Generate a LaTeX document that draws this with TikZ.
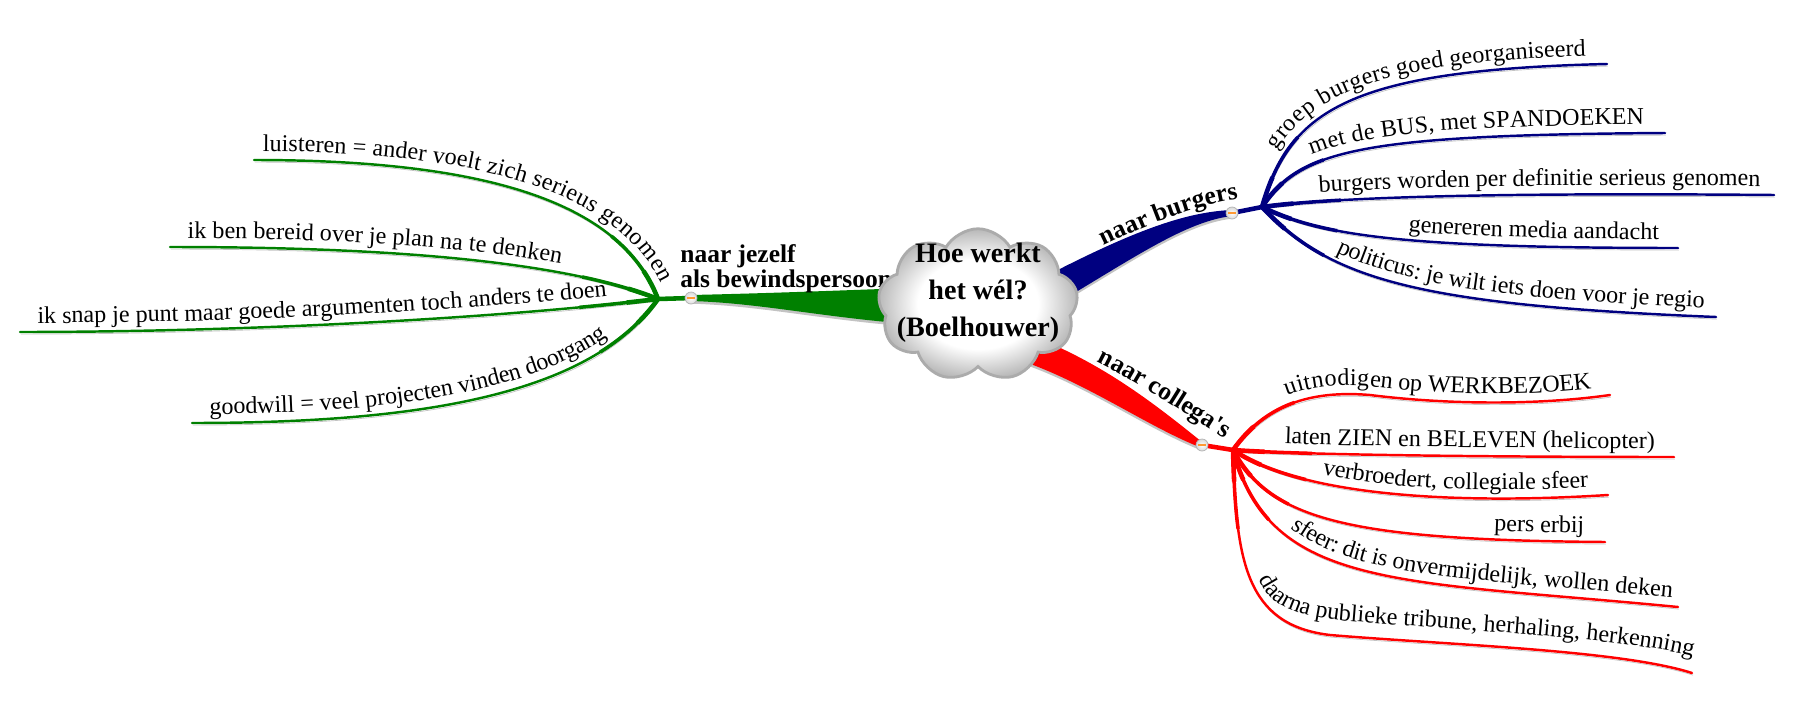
\documentclass[tikz,border=0pt]{standalone}
\usepackage{fontspec}
\setmainfont{Liberation Serif}
\usetikzlibrary{shapes.symbols,decorations.text}
\definecolor{mmgreen}{RGB}{0,128,0}
\definecolor{mmblue}{RGB}{0,0,128}
\definecolor{mmred}{RGB}{255,0,0}
\definecolor{mmshadow}{RGB}{195,195,195}
\pgfdeclareradialshading{cloudshade}{\pgfpoint{0bp}{0bp}}{color(0bp)=(white); color(15bp)=(white); color(25bp)=(black!28); color(50bp)=(black!28)}
\newcommand{\leaffont}{\fontsize{13.7}{16}\selectfont}
\newcommand{\branchfont}{\fontsize{14.5}{14.2}\selectfont\bfseries}

\begin{document}
\begin{tikzpicture}[x=0.02cm, y=-0.02cm,
  leaf/.style={line width=1.4pt, line cap=round, draw=#1,
    preaction={draw=mmshadow, transform canvas={xshift=0.5pt, yshift=-1.2pt}},
    preaction={draw=#1, line width=2pt, dash pattern=on 45pt off 3000pt},
    preaction={draw=#1, line width=2.6pt, dash pattern=on 18pt off 3000pt}},
  leftleaf/.style n args={3}{leaf=#1, postaction={decorate, decoration={text along path,
    reverse path, raise=5pt, text color=black, text align={align=left, left indent=#2},
    text={|\leaffont|#3}}}},
  rightleaf/.style n args={3}{leaf=#1, postaction={decorate, decoration={text along path,
    raise=5pt, text color=black, text align={align=right, right indent=#2},
    text={|\leaffont|#3}}}},
  leaftext/.style 2 args={decorate, decoration={text along path, text color=black,
    text align={align=right, right indent=#1}, text={|\leaffont|#2}}},
  band/.style={preaction={fill=mmshadow, transform canvas={yshift=-1.5pt}}},
  stem/.style={line width=2.6pt},
  bandtext/.style={decorate, decoration={text along path, raise=#1,
    text color=black, text align={align=center}}},
  centercloud/.style={cloud, cloud puffs=9, cloud puff arc=120, cloud ignores aspect,
    minimum width=4cm, minimum height=3.05cm, draw=black!33, line width=1.6pt,
    shading=cloudshade},
  titletext/.style={font=\fontsize{16}{21}\selectfont\bfseries, align=center, inner sep=0pt},
  branchlabel/.style={font=\branchfont, align=left, inner sep=0pt},
  knob/.style={circle, minimum size=0.24cm, inner sep=0pt, draw=black!30, line width=0.4pt,
    inner color=white, outer color=black!15,
    path picture={\draw[orange!80, line width=0.8pt]
      ([xshift=1.2pt]path picture bounding box.west) -- ([xshift=-1.2pt]path picture bounding box.east);}}]

\path[use as bounding box, fill=white] (0,0) rectangle (1795,700);

% forks, knobs and leaf ends
\coordinate (gfork) at (658,299);
\coordinate (gk) at (691,298);
\coordinate (g1) at (254,160);
\coordinate (g2) at (170,247);
\coordinate (g3) at (20,332);
\coordinate (g4) at (192,423);

\coordinate (bfork) at (1262,207);
\coordinate (bk) at (1232,213);
\coordinate (b1) at (1607,64);
\coordinate (b2) at (1665,133);
\coordinate (b3) at (1774,195);
\coordinate (b4) at (1678,248);
\coordinate (b5) at (1716,317);

\coordinate (rfork) at (1233,450);
\coordinate (rk) at (1202,445);
\coordinate (r1) at (1610,395);
\coordinate (r2) at (1674,457);
\coordinate (r3) at (1608,495);
\coordinate (r4) at (1605,542);
\coordinate (r5) at (1678,607);
\coordinate (r6) at (1692,673);

% main branches
\fill[band, mmgreen] (691,295) .. controls (780,293) and (850,290) .. (910,288)
  -- (910,324) .. controls (820,317) and (760,303) .. (691,301) -- cycle;
\fill[band, mmblue] (1232,210) .. controls (1180,212) and (1120,236) .. (1010,295)
  -- (1020,325) .. controls (1120,268) and (1180,222) .. (1232,216) -- cycle;
\fill[band, mmred] (1202,442) .. controls (1150,400) and (1100,362) .. (1030,335)
  -- (1025,362) .. controls (1090,385) and (1150,428) .. (1202,448) -- cycle;

\draw[stem, mmgreen] (gfork) -- (gk);
\draw[stem, mmblue] (bk) -- (bfork);
\draw[stem, mmred] (rk) -- (rfork);

% naar jezelf
\draw[leftleaf={mmgreen}{5pt}{luisteren = ander voelt zich serieus genomen}]
  (gfork) .. controls (620,200) and (480,160) .. (g1);
\draw[leftleaf={mmgreen}{10pt}{ik ben bereid over je plan na te denken}]
  (gfork) .. controls (560,260) and (380,247) .. (g2);
\draw[leftleaf={mmgreen}{10pt}{ik snap je punt maar goede argumenten toch anders te doen}]
  (gfork) .. controls (500,318) and (250,332) .. (g3);
\draw[leftleaf={mmgreen}{10pt}{goodwill = veel projecten vinden doorgang}]
  (gfork) .. controls (590,395) and (420,423) .. (g4);

% naar burgers
\draw[rightleaf={mmblue}{12pt}{groep burgers goed georganiseerd}]
  (bfork) .. controls (1290,110) and (1350,70) .. (b1);
\draw[rightleaf={mmblue}{12pt}{met de BUS, met SPANDOEKEN}]
  (bfork) .. controls (1300,150) and (1360,135) .. (b2);
\draw[rightleaf={mmblue}{8pt}{burgers worden per definitie serieus genomen}]
  (bfork) .. controls (1350,195) and (1550,193) .. (b3);
\draw[rightleaf={mmblue}{11pt}{genereren media aandacht}]
  (bfork) .. controls (1320,235) and (1400,248) .. (b4);
\draw[rightleaf={mmblue}{7pt}{politicus: je wilt iets doen voor je regio}]
  (bfork) .. controls (1330,280) and (1420,305) .. (b5);

% naar collega's
\draw[rightleaf={mmred}{10pt}{uitnodigen op WERKBEZOEK}]
  (rfork) .. controls (1265,405) and (1310,390) .. (1370,395)
  .. controls (1450,405) and (1540,405) .. (r1);
\draw[rightleaf={mmred}{11pt}{laten ZIEN en BELEVEN (helicopter)}]
  (rfork) .. controls (1300,455) and (1500,457) .. (r2);
\draw[rightleaf={mmred}{11pt}{verbroedert, collegiale sfeer}]
  (rfork) .. controls (1300,495) and (1450,505) .. (r3);
\draw[rightleaf={mmred}{12pt}{pers erbij}]
  (rfork) .. controls (1270,520) and (1350,540) .. (r4);
\draw[rightleaf={mmred}{4pt}{sfeer: dit is onvermijdelijk, wollen deken}]
  (rfork) .. controls (1270,590) and (1400,580) .. (r5);
\draw[leaf=mmred]
  (rfork) .. controls (1236,560) and (1245,625) .. (1330,635)
  .. controls (1450,645) and (1620,650) .. (r6);
\path[leaftext={2pt}{daarna publieke tribune, herhaling, herkenning}]
  (1250,548) .. controls (1256,590) and (1270,612) .. (1335,620)
  .. controls (1450,630) and (1620,637) .. (1696,657);

\node[branchlabel, anchor=north west] (jezelf) at (680,244) {naar jezelf\\als bewindspersoon};

% centre
\node[centercloud] (cloud) at (978,305) {};
\node[titletext] (title) at (978,293) {Hoe werkt\\het wél?\\(Boelhouwer)};

\node[knob] (gknob) at (gk) {};
\node[knob] (bknob) at (bk) {};
\node[knob] (rknob) at (rk) {};

\path[bandtext=1.5pt, decoration={text={|\branchfont|naar burgers}}]
  (1095,253) .. controls (1150,226) and (1200,205) .. (1250,200);
\path[bandtext=2pt, decoration={text={|\branchfont|naar collega{\textquotesingle}s}}]
  (1085,360) .. controls (1125,378) and (1180,415) .. (1232,447);
\end{tikzpicture}
\end{document}
